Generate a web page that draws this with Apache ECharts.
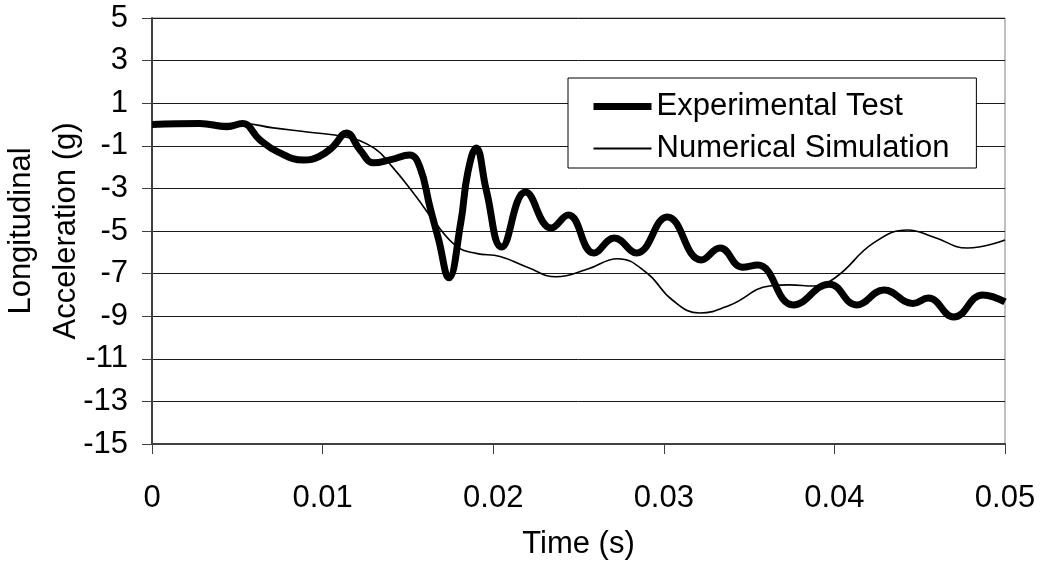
<!DOCTYPE html>
<html>
<head>
<meta charset="utf-8">
<script src="https://cdn.jsdelivr.net/npm/echarts@6/dist/echarts.min.js"></script>
<style>
  html, body { margin: 0; padding: 0; background: #fff; }
  #chart { width: 1044px; height: 564px; }
</style>
</head>
<body>
<div id="chart"></div>
<script>
// time (s) / longitudinal acceleration (g)
var expTime = [0, 0.0028, 0.0044, 0.0053, 0.0063, 0.0074, 0.0089, 0.0098, 0.0106, 0.0114, 0.0122, 0.0130, 0.0140, 0.0151, 0.0157,
  0.0163, 0.0168, 0.0174, 0.0181, 0.0185, 0.0190, 0.0196, 0.0205, 0.0219, 0.0234, 0.0244, 0.0259, 0.0271, 0.0284, 0.0302,
  0.0322, 0.0333, 0.0346, 0.0355, 0.0376, 0.0397, 0.0413, 0.0429, 0.0446, 0.0455, 0.0470, 0.0487, 0.0500];
var expAccel = [0.0, 0.05, -0.1, 0.05, -0.7, -1.3, -1.67, -1.5, -1.05, -0.4, -1.2, -1.8, -1.65, -1.43, -2.0,
  -3.9, -5.4, -7.2, -4.6, -2.3, -1.1, -3.1, -5.75, -3.17, -4.86, -4.25, -6.03, -5.33, -6.03, -4.34,
  -6.36, -5.8, -6.7, -6.6, -8.47, -7.5, -8.47, -7.77, -8.4, -8.15, -9.04, -8.0, -8.33];

var simTime = [0, 0.0028, 0.0053, 0.0071, 0.0091, 0.0114, 0.0130, 0.0141, 0.0155, 0.0165, 0.0179, 0.0190, 0.0204, 0.0220,
  0.0237, 0.0255, 0.0273, 0.0290, 0.0305, 0.0321, 0.0339, 0.0362, 0.0374, 0.0388, 0.0401, 0.0423, 0.0443, 0.0458, 0.0478, 0.0500];
var simAccel = [0.0, 0.05, 0.05, -0.16, -0.35, -0.6, -1.1, -2.0, -3.4, -4.5, -5.75, -6.05, -6.2, -6.7,
  -7.15, -6.8, -6.3, -6.97, -8.24, -8.85, -8.47, -7.58, -7.53, -7.58, -7.16, -5.56, -4.95, -5.28, -5.8, -5.42];

var xTicks = ['0', '0.01', '0.02', '0.03', '0.04', '0.05'];

function pairs(xs, ys) {
  var out = [];
  for (var i = 0; i < xs.length; i++) out.push([xs[i], ys[i]]);
  return out;
}

var font = 'Liberation Sans, Arial, sans-serif';
var chart = echarts.init(document.getElementById('chart'));

var option = {
  animation: false,
  backgroundColor: '#fff',
  textStyle: { fontFamily: font, color: '#000' },
  grid: {
    left: 152, right: 39, top: 18, bottom: 120,
    containLabel: false,
    outerBoundsMode: 'none',
    show: true, borderColor: '#808080', borderWidth: 1
  },
  legend: {
    orient: 'vertical',
    left: 568, top: 78,
    padding: [13, 27, 4, 22],
    itemGap: 11,
    itemWidth: 58,
    itemHeight: 14,
    borderColor: '#000',
    borderWidth: 1,
    backgroundColor: '#fff',
    textStyle: { fontFamily: font, fontSize: 31, color: '#000' },
    data: [
      { name: 'Experimental Test', lineStyle: { width: 7, color: '#000' }, itemStyle: { opacity: 0 } },
      { name: 'Numerical Simulation', lineStyle: { width: 2, color: '#000' }, itemStyle: { opacity: 0 } }
    ]
  },
  xAxis: {
    type: 'value',
    min: 0, max: 0.05, interval: 0.01,
    name: 'Time (s)',
    nameLocation: 'middle',
    nameGap: 85,
    nameMoveOverlap: false,
    nameTextStyle: { fontFamily: font, fontSize: 31, color: '#000' },
    axisLine: { onZero: false, lineStyle: { color: '#404040', width: 2 } },
    axisTick: { show: true, length: 10, lineStyle: { color: '#404040' } },
    axisLabel: {
      margin: 39, fontFamily: font, fontSize: 31, color: '#000',
      formatter: function (v) { return xTicks[Math.round(v / 0.01)]; }
    },
    splitLine: { show: false }
  },
  yAxis: {
    type: 'value',
    min: -15, max: 5, interval: 2,
    name: 'Longitudinal\nAcceleration (g)',
    nameLocation: 'middle',
    nameRotate: 90,
    nameGap: 63,
    nameMoveOverlap: false,
    nameTextStyle: { fontFamily: font, fontSize: 31, lineHeight: 45, color: '#000' },
    axisLine: { show: true, onZero: false, lineStyle: { color: '#404040', width: 2 } },
    axisTick: { show: true, length: 10, lineStyle: { color: '#404040' } },
    axisLabel: { margin: 24, fontFamily: font, fontSize: 31, color: '#000' },
    splitLine: { show: true, lineStyle: { color: '#1a1a1a', width: 1 } }
  },
  series: [
    {
      name: 'Experimental Test',
      type: 'line',
      data: pairs(expTime, expAccel),
      smooth: 0.45,
      symbol: 'none',
      lineStyle: { color: '#000', width: 7 },
      itemStyle: { color: '#000' },
      z: 3
    },
    {
      name: 'Numerical Simulation',
      type: 'line',
      data: pairs(simTime, simAccel),
      smooth: 0.45,
      symbol: 'none',
      lineStyle: { color: '#000', width: 1.6 },
      itemStyle: { color: '#000' },
      z: 2
    }
  ]
};

chart.setOption(option);
</script>
</body>
</html>
